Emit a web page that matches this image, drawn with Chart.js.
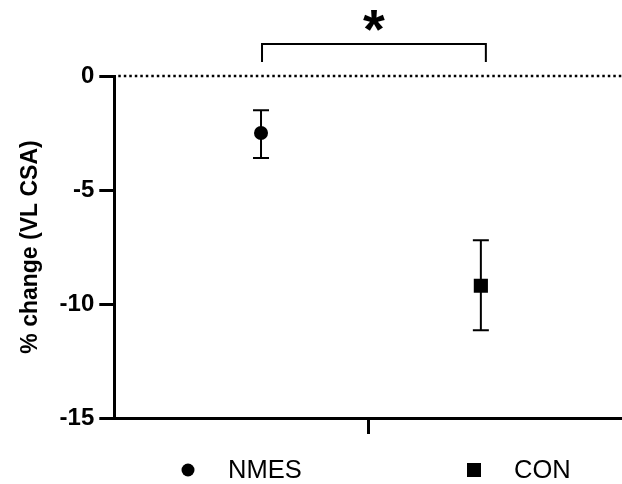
<!DOCTYPE html>
<html><head><meta charset="utf-8">
<script src="https://cdn.jsdelivr.net/npm/chart.js@4"></script>
<style>html,body{margin:0;padding:0;background:#fff}#wrap{width:622px;height:484px}</style>
</head><body><div id="wrap"><canvas id="c" width="622" height="484"></canvas></div>
<script>
// ---- data ----
const groups = ['NMES', 'CON'];
const groupX = [0.289, 0.722];
const means = [-2.5, -9.2];
const errUpper = [-1.5, -7.2];
const errLower = [-3.6, -11.15];
const pointStyles = ['circle', 'rect'];
const pointRadii = [7, 10];
const yTicks = [0, -5, -10, -15];
const yTitle = '% change (VL CSA)';
const sigLabel = '*';

const FONT = "'Liberation Sans', Arial, Helvetica, sans-serif";

const extras = {
  id: 'extras',
  beforeDatasetsDraw(chart) {
    const { ctx, chartArea: a, scales: { x, y } } = chart;
    ctx.save();
    ctx.strokeStyle = '#000';
    // dotted zero line
    const y0 = y.getPixelForValue(0);
    ctx.lineWidth = 2.5;
    ctx.setLineDash([2.5, 3]);
    ctx.beginPath();
    ctx.moveTo(a.left + 4, y0);
    ctx.lineTo(a.right, y0);
    ctx.stroke();
    ctx.setLineDash([]);
    // error bars
    ctx.lineWidth = 2;
    groups.forEach((g, i) => {
      const px = x.getPixelForValue(groupX[i]);
      const pu = y.getPixelForValue(errUpper[i]);
      const pl = y.getPixelForValue(errLower[i]);
      ctx.beginPath();
      ctx.moveTo(px, pu); ctx.lineTo(px, pl);
      ctx.moveTo(px - 8, pu); ctx.lineTo(px + 8, pu);
      ctx.moveTo(px - 8, pl); ctx.lineTo(px + 8, pl);
      ctx.stroke();
    });
    ctx.restore();
  },
  afterDraw(chart) {
    const { ctx, chartArea: a, scales: { x } } = chart;
    ctx.save();
    ctx.strokeStyle = '#000';
    ctx.fillStyle = '#000';
    // significance bracket
    const xl = x.getPixelForValue(groupX[0]) + 1;
    const xr = x.getPixelForValue(groupX[1]) + 5;
    const top = a.top - 32, legB = a.top - 14;
    ctx.lineWidth = 2;
    ctx.beginPath();
    ctx.moveTo(xl, legB); ctx.lineTo(xl, top); ctx.lineTo(xr, top); ctx.lineTo(xr, legB);
    ctx.stroke();
    ctx.font = 'bold 56px ' + FONT;
    ctx.textAlign = 'center';
    ctx.textBaseline = 'alphabetic';
    ctx.fillText(sigLabel, (xl + xr) / 2, 48);
    // legend
    const legY = 470;
    const markerX = [188, 474];
    ctx.font = '25.5px ' + FONT;
    ctx.textAlign = 'left';
    ctx.textBaseline = 'middle';
    groups.forEach((g, i) => {
      const mx = markerX[i];
      ctx.beginPath();
      if (pointStyles[i] === 'circle') {
        ctx.arc(mx, legY, 6.5, 0, Math.PI * 2);
      } else {
        ctx.rect(mx - 7, legY - 7, 14, 14);
      }
      ctx.fill();
      ctx.fillText(g, mx + 40, legY + 1);
    });
    ctx.restore();
  }
};

new Chart(document.getElementById('c'), {
  type: 'scatter',
  data: {
    datasets: groups.map((g, i) => ({
      label: g,
      data: [{ x: groupX[i], y: means[i] }],
      pointStyle: pointStyles[i],
      pointRadius: pointRadii[i],
      pointHoverRadius: pointRadii[i],
      backgroundColor: '#000',
      borderColor: '#000',
      borderWidth: 0
    }))
  },
  options: {
    responsive: false,
    animation: false,
    devicePixelRatio: 1,
    layout: { autoPadding: false, padding: { top: 76, left: 10, right: 0, bottom: 50 } },
    plugins: { legend: { display: false }, tooltip: { enabled: false } },
    scales: {
      x: {
        type: 'linear', min: 0, max: 1,
        afterBuildTicks: s => { s.ticks = [{ value: 0.5 }]; },
        ticks: { display: false },
        grid: { drawOnChartArea: false, drawTicks: true, tickLength: 16, lineWidth: 3, color: '#000' },
        border: { display: true, color: '#000', width: 3 }
      },
      y: {
        min: -15, max: 0,
        afterBuildTicks: s => { s.ticks = yTicks.map(v => ({ value: v })); },
        ticks: { color: '#000', padding: 5, font: { family: FONT, size: 24, weight: 'bold' }, callback: v => String(v) },
        grid: { drawOnChartArea: false, drawTicks: true, tickLength: 15, lineWidth: 3, color: '#000' },
        border: { display: true, color: '#000', width: 3 },
        title: { display: true, text: yTitle, color: '#000', font: { family: FONT, size: 23, weight: 'bold' }, padding: { top: 7, bottom: 10 } }
      }
    }
  },
  plugins: [extras]
});
</script>
</body></html>
